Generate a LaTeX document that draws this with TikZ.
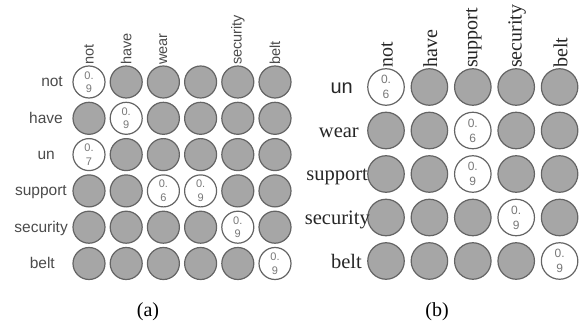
\documentclass[tikz,border=0pt]{standalone}
\usepackage{fontspec}
\setmainfont{Liberation Serif}
\setsansfont{Liberation Sans}
\definecolor{dotfill}{RGB}{166,166,166}
\definecolor{dotline}{RGB}{100,100,100}
\definecolor{labgray}{RGB}{75,75,75}
\definecolor{numgray}{RGB}{120,120,120}
\begin{document}
\begin{tikzpicture}[x=1pt,y=-1pt,
  adot/.style={circle, draw=dotline, fill=dotfill, line width=1.2pt, minimum size=32pt, inner sep=0pt},
  awhite/.style={circle, draw=dotline, fill=white, line width=1.2pt, minimum size=32pt, inner sep=0pt,
    align=center, text=numgray, font=\sffamily\fontsize{11}{13.5}\selectfont},
  bdot/.style={circle, draw=dotline, fill=dotfill, line width=1.2pt, minimum size=36.5pt, inner sep=0pt},
  bwhite/.style={circle, draw=dotline, fill=white, line width=1.2pt, minimum size=36.5pt, inner sep=0pt,
    align=center, text=numgray, font=\sffamily\fontsize{12}{15}\selectfont},
  arow/.style={anchor=base east, inner sep=0pt, text=labgray, font=\sffamily\fontsize{15.5}{18}\selectfont},
  acol/.style={anchor=west, rotate=90, inner sep=0pt, text=labgray, font=\sffamily\fontsize{14.5}{17}\selectfont},
  brow/.style={anchor=base east, inner sep=0pt, text=black!85, font=\fontsize{20.5}{24}\selectfont},
  bcol/.style={anchor=west, rotate=90, inner sep=0pt, text=black!85, font=\fontsize{20}{24}\selectfont},
  captext/.style={inner sep=0pt, font=\fontsize{20}{24}\selectfont}]
\useasboundingbox (0,0) rectangle (586,331);
% ---------- (a) ----------
\foreach \c in {2,...,6} \node[adot] (a1\c) at ({89+37.2*(\c-1)},82) {};
\node[awhite] (a11) at (89,82) {0.\\9};
\foreach \c in {1,3,4,5,6} \node[adot] (a2\c) at ({89+37.2*(\c-1)},118.3) {};
\node[awhite] (a22) at (126.2,118.3) {0.\\9};
\foreach \c in {2,...,6} \node[adot] (a3\c) at ({89+37.2*(\c-1)},154.6) {};
\node[awhite] (a31) at (89,154.6) {0.\\7};
\foreach \c in {1,2,5,6} \node[adot] (a4\c) at ({89+37.2*(\c-1)},190.9) {};
\node[awhite] (a43) at (163.4,190.9) {0.\\6};
\node[awhite] (a44) at (200.6,190.9) {0.\\9};
\foreach \c in {1,2,3,4,6} \node[adot] (a5\c) at ({89+37.2*(\c-1)},227.2) {};
\node[awhite] (a55) at (237.8,227.2) {0.\\9};
\foreach \c in {1,...,5} \node[adot] (a6\c) at ({89+37.2*(\c-1)},263.5) {};
\node[awhite] (a66) at (275,263.5) {0.\\9};
% row labels (a)
\node[arow] (ar1) at (63,87) {not};
\node[arow] (ar2) at (63,123.3) {have};
\node[arow] (ar3) at (55,159.6) {un};
\node[arow] (ar4) at (67,195.9) {support};
\node[arow] (ar5) at (68,232.2) {security};
\node[arow] (ar6) at (55,268.5) {belt};
% column labels (a)
\node[acol] (ac1) at (89,65) {not};
\node[acol] (ac2) at (126.2,65) {have};
\node[acol] (ac3) at (163.4,65) {wear};
\node[acol] (ac5) at (237.8,65) {security};
\node[acol] (ac6) at (275,65) {belt};
% ---------- (b) ----------
\node[bwhite] (b11) at (386,87) {0.\\6};
\foreach \c in {2,...,5} \node[bdot] (b1\c) at ({386+43.4*(\c-1)},87) {};
\foreach \c in {1,2,4,5} \node[bdot] (b2\c) at ({386+43.4*(\c-1)},130.5) {};
\node[bwhite] (b23) at (472.8,130.5) {0.\\6};
\foreach \c in {1,2,4,5} \node[bdot] (b3\c) at ({386+43.4*(\c-1)},174) {};
\node[bwhite] (b33) at (472.8,174) {0.\\9};
\foreach \c in {1,2,3,5} \node[bdot] (b4\c) at ({386+43.4*(\c-1)},217.5) {};
\node[bwhite] (b44) at (516.2,217.5) {0.\\9};
\foreach \c in {1,...,4} \node[bdot] (b5\c) at ({386+43.4*(\c-1)},261) {};
\node[bwhite] (b55) at (559.6,261) {0.\\9};
% row labels (b)
\node[brow, font=\sffamily\fontsize{20}{24}\selectfont] (br1) at (353,94) {un};
\node[brow] (br2) at (359,137.5) {wear};
\node[brow] (br3) at (368,181) {support};
\node[brow] (br4) at (370,224.5) {security};
\node[brow] (br5) at (362,268) {belt};
% column labels (b)
\node[bcol] (bc1) at (387,68) {not};
\node[bcol] (bc2) at (430.4,68) {have};
\node[bcol] (bc3) at (473.8,68) {support};
\node[bcol] (bc4) at (517.2,68) {security};
\node[bcol] (bc5) at (560.6,68) {belt};
% captions
\node[captext] (capa) at (148,312) {(a)};
\node[captext] (capb) at (437,312) {(b)};
\end{tikzpicture}
\end{document}
